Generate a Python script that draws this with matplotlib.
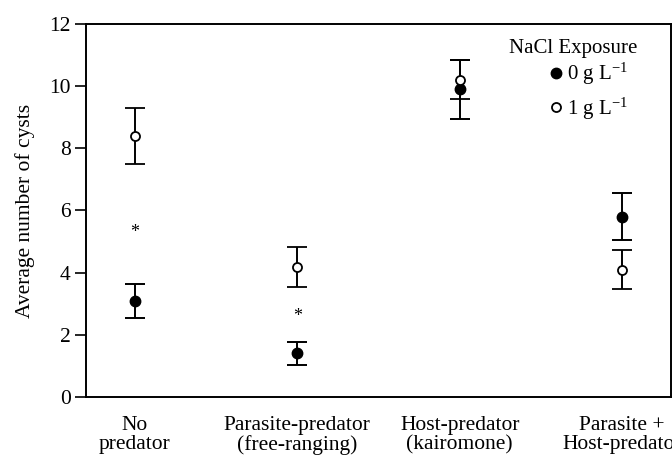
import numpy as np
import matplotlib
matplotlib.use("Agg")
import matplotlib.pyplot as plt

plt.rcParams['font.family'] = ['Liberation Serif', 'DejaVu Serif']
plt.rcParams['mathtext.default'] = 'regular'

# data
groups = ["No\npredator", "Parasite-predator\n(free-ranging)",
          "Host-predator\n(kairomone)", "Parasite +\nHost-predator"]
salt0_mean = [3.09, 1.40, 9.90, 5.80]
salt0_err = [0.56, 0.37, 0.95, 0.76]
salt1_mean = [8.40, 4.19, 10.20, 4.10]
salt1_err = [0.91, 0.65, 0.63, 0.64]
star_y = [5.43, 2.71]   # significance marks (first two groups)

x = np.arange(len(groups))

fig = plt.figure(figsize=(6.72, 4.59), dpi=100)
ax = fig.add_axes([0.128, 0.135, 0.8705, 0.813])

h0 = ax.errorbar(x, salt0_mean, yerr=salt0_err, fmt='o', color='black',
                 mfc='black', ms=7.5, capsize=7, elinewidth=1.4, capthick=1.4,
                 zorder=3)
h1 = ax.errorbar(x, salt1_mean, yerr=salt1_err, fmt='o', color='black',
                 mfc='white', mec='black', mew=1.3, ms=6.5, capsize=7,
                 elinewidth=1.4, capthick=1.4, zorder=4)

for i, yy in enumerate(star_y):
    ax.annotate('*', (x[i], yy), xytext=(0, -4), textcoords='offset pixels',
                ha='center', va='center', fontsize=13)

ax.set_xlim(-0.30, 3.30)
ax.set_ylim(0, 12)
ax.set_yticks([0, 2, 4, 6, 8, 10, 12])
ax.set_xticks(x)
ax.set_xticklabels(groups, fontsize=15.5, linespacing=1.0)
ax.tick_params(axis='x', length=0, pad=14)
ax.tick_params(axis='y', direction='out', length=8, width=1.2, labelsize=15.5, pad=3)
ax.set_ylabel("Average number of cysts", fontsize=15.5, labelpad=10)
for s in ax.spines.values():
    s.set_linewidth(1.4)

# legend: title placed as text, entries via legend
ax.text(0.832, 0.935, "NaCl Exposure", transform=ax.transAxes,
        ha='center', va='center', fontsize=15)
ax.legend([h0[0], h1[0]], ["0 g L$^{-1}$", "1 g L$^{-1}$"],
          loc='upper left', bbox_to_anchor=(0.793, 0.90), frameon=False,
          fontsize=15, handlelength=0.6, handletextpad=0.2,
          borderaxespad=0, borderpad=0, labelspacing=0.4)

fig.savefig("out.png", dpi=100)
